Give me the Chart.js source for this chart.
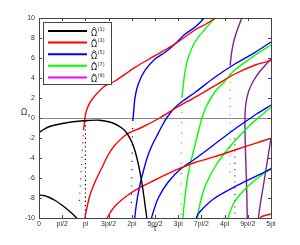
<!DOCTYPE html>
<html>
<head>
<meta charset="utf-8">
<script src="https://cdn.jsdelivr.net/npm/chart.js@4/dist/chart.umd.min.js"></script>
<style>
  html, body { margin: 0; padding: 0; background: #fff; }
  #wrap { width: 300px; height: 245px; }
</style>
</head>
<body>
<div id="wrap"><canvas id="omega" width="300" height="245"></canvas></div>
<script>
var tauLabels = ['0', 'pi/2', 'pi', '3pi/2', '2pi', '5pi/2', '3pi', '7pi/2', '4pi', '9pi/2', '5pi'];

var om1Upper = [[0,-1.45],[0.1,-1.15],[0.2,-0.9],[0.4,-0.65],[0.63,-0.45],[0.85,-0.32],[1.06,-0.25],[1.3,-0.22],[1.5,-0.38],[1.64,-0.6],[1.8,-1.05],[1.9,-1.55],[2.0,-2.4],[2.07,-3.3],[2.14,-4.6],[2.2,-6.0],[2.26,-7.8],[2.3,-9.2],[2.34,-10.5]];
var om1Lower = [[0,-7.7],[0.1,-7.75],[0.2,-7.9],[0.35,-8.25],[0.49,-8.7],[0.6,-9.1],[0.7,-9.5],[0.81,-10],[0.85,-10.3]];
var om1Dots = [[1.0,-0.3],[1.0,-10]];

var om3Dots = [[0.87,-8.3],[0.96,-1.2]];
var om3A = [[0.96,-1.2],[0.99,0],[1.02,0.7],[1.1,1.57],[1.24,2.4],[1.42,3.2],[1.64,3.7],[2.07,5.07],[2.5,6.23],[2.93,7.4],[3.36,8.8],[3.6,9.4],[3.81,10],[3.9,10.3]];
var om3B = [[0.99,-10.3],[1.0,-9.7],[1.1,-7.7],[1.21,-6.37],[1.35,-5.03],[1.49,-3.7],[1.64,-2.7],[1.9,-1.6],[2.21,-0.95],[2.6,0],[2.93,0.95],[3.36,2.07],[3.79,3.23],[4.22,4.4],[4.66,5.3],[5.0,5.75]];
var om3C = [[1.46,-10.3],[1.48,-9.9],[1.64,-8.8],[1.92,-7.7],[2.21,-6.87],[2.5,-6.2],[2.79,-5.53],[3.07,-4.97],[3.36,-4.45],[3.79,-3.87],[4.22,-3.2],[4.66,-2.53],[5.0,-2.03]];
var om3D = [[4.74,-10.1],[4.8,-9.85],[5.0,-9.6]];

var om5Dots = [[1.99,-8.5],[2.02,-0.3]];
var om5A = [[2.02,-0.3],[2.03,0.07],[2.07,2.07],[2.14,3.4],[2.28,4.73],[2.5,5.9],[2.72,6.57],[2.93,7.4],[3.15,8.4],[3.36,9.07],[3.54,9.9],[3.6,10.3]];
var om5B = [[2.06,-10.3],[2.08,-9.3],[2.12,-8.0],[2.18,-6.6],[2.25,-5.3],[2.33,-4.0],[2.42,-2.9],[2.55,-1.7],[2.65,-0.8],[2.75,0],[2.9,0.9],[3.07,1.6],[3.36,2.55],[3.79,4.07],[4.22,5.4],[4.66,6.57],[5.0,7.6]];
var om5C = [[2.42,-10.3],[2.43,-9.9],[2.57,-8.0],[2.79,-6.37],[3.07,-5.03],[3.36,-4.1],[3.79,-2.6],[4.22,-1.1],[4.5,-0.2],[4.69,0.4],[5.0,1.3]];
var om5D = [[3.39,-10.3],[3.4,-9.87],[3.5,-9.2],[3.79,-8.0],[4.22,-6.87],[4.66,-5.87],[5.0,-5.1]];

var om7Dots = [[3.06,-9.7],[3.08,2.0]];
var om7A = [[3.08,2.0],[3.1,2.9],[3.15,4.73],[3.22,6.07],[3.36,7.6],[3.58,8.9],[3.79,10],[3.85,10.3]];
var om7B = [[3.1,-10.3],[3.12,-9.0],[3.17,-7.0],[3.24,-5.0],[3.32,-3.5],[3.4,-2.0],[3.5,-0.2],[3.6,1.1],[3.79,2.6],[4.0,3.65],[4.22,4.8],[4.66,6.3],[5.0,7.3]];
var om7C = [[3.41,-10.3],[3.43,-9.5],[3.5,-8.0],[3.6,-6.6],[3.79,-4.9],[4.0,-3.5],[4.22,-2.3],[4.55,-0.7],[4.8,0.3],[5.0,1.1]];
var om7D = [[4.07,-10.3],[4.08,-9.9],[4.2,-8.5],[4.4,-7.3],[4.66,-6.2],[5.0,-5.0]];

var om9DotsUp = [[4.12,5.3],[4.12,-6]];
var om9DotsLow = [[4.22,-2],[4.22,-10]];
var om9A = [[4.12,5.3],[4.15,6.5],[4.2,7.7],[4.28,8.9],[4.37,10],[4.4,10.4]];
var om9B = [[4.49,-10.3],[4.475,-7],[4.455,-4],[4.44,-1.5],[4.44,0.3],[4.46,1.5],[4.52,2.7],[4.62,3.7],[4.75,4.6],[4.88,5.3],[5.0,5.9]];
var om9C = [[4.72,-10.3],[4.73,-9.9],[4.77,-8.6],[4.82,-7.2],[4.9,-4.9],[4.96,-3.2],[5.0,-2.0]];

var legendNames = ['(1)', '(3)', '(5)', '(7)', '(9)'];
var legendColors = ['#000000', '#ff0000', '#0000ff', '#00ff00', '#ff00ff'];

var solid = [
  [om1Upper, '#000000'], [om1Lower, '#000000'],
  [om3A, '#ff0000'], [om3B, '#ff0000'], [om3C, '#ff0000'], [om3D, '#ff0000'],
  [om5A, '#0000ff'], [om5B, '#0000ff'], [om5C, '#0000ff'], [om5D, '#0000ff'],
  [om7A, '#00ff00'], [om7B, '#00ff00'], [om7C, '#00ff00'], [om7D, '#00ff00'],
  [om9A, '#80208a'], [om9B, '#80208a'], [om9C, '#80208a']
];
// [points, colour, gap between dots]
var dotted = [
  [om1Dots, '#000000', 3], [om3Dots, '#ff0000', 6], [om5Dots, '#0000ff', 7],
  [om7Dots, '#00ff00', 9], [om9DotsUp, '#c070c0', 7], [om9DotsLow, '#80208a', 5]
];

function toXY(arr) { return arr.map(function (p) { return { x: p[0], y: p[1] }; }); }

var datasets = [];
solid.forEach(function (s) {
  datasets.push({ data: toXY(s[0]), borderColor: s[1], borderWidth: 1.4, showLine: true, pointRadius: 0, tension: 0.3 });
});
dotted.forEach(function (s) {
  datasets.push({ data: toXY(s[0]), borderColor: s[1], borderWidth: 1.2, borderDash: [1.2, s[2]], showLine: true, pointRadius: 0, tension: 0 });
});

// box with inward ticks on all four sides, like matlab
var boxPlugin = {
  id: 'box',
  afterDatasetsDraw: function (chart) {
    var c = chart.ctx, a = chart.chartArea, xs = chart.scales.x, ys = chart.scales.y;
    c.save();
    c.strokeStyle = '#444';
    c.lineWidth = 1;
    c.beginPath();
    xs.ticks.forEach(function (t) {
      var px = Math.round(xs.getPixelForValue(t.value)) + 0.5;
      c.moveTo(px, a.bottom); c.lineTo(px, a.bottom - 3);
      c.moveTo(px, a.top); c.lineTo(px, a.top + 3);
    });
    ys.ticks.forEach(function (t) {
      var py = Math.round(ys.getPixelForValue(t.value)) + 0.5;
      c.moveTo(a.left, py); c.lineTo(a.left + 3, py);
      c.moveTo(a.right, py); c.lineTo(a.right - 3, py);
    });
    c.stroke();
    c.strokeRect(Math.round(a.left) + 0.5, Math.round(a.top) + 0.5, Math.round(a.right - a.left), Math.round(a.bottom - a.top));
    c.restore();
  },
  afterDraw: function (chart) {
    var c = chart.ctx;
    c.save();
    // legend
    var lx = 43.5, ly = 22.5, lw = 68, lh = 62;
    c.fillStyle = '#fff';
    c.fillRect(lx, ly, lw, lh);
    c.strokeStyle = '#444';
    c.lineWidth = 1;
    c.strokeRect(lx, ly, lw, lh);
    legendNames.forEach(function (n, i) {
      var y = 31 + i * 11.6;
      c.strokeStyle = legendColors[i];
      c.lineWidth = 2;
      c.beginPath(); c.moveTo(48, y); c.lineTo(87, y); c.stroke();
      c.fillStyle = '#222';
      c.textBaseline = 'middle';
      c.textAlign = 'left';
      c.font = '8px "DejaVu Sans"';
      c.fillText('\u03A9', 91, y + 2.5);
      // hat over the omega
      c.strokeStyle = '#222';
      c.lineWidth = 0.8;
      c.beginPath();
      c.moveTo(92.3, y - 2); c.lineTo(94.3, y - 3.8); c.lineTo(96.3, y - 2);
      c.stroke();
      c.font = '5px "DejaVu Sans"';
      c.fillText(n, 97.5, y - 1.5);
    });
    // axis titles
    c.fillStyle = '#333';
    c.textAlign = 'center';
    c.font = '8px "DejaVu Sans"';
    c.fillText('\u03C4', 155, 229);
    c.fillText('\u03A9', 24, 113);
    c.font = '5px "DejaVu Sans"';
    c.fillText('s', 29, 116);
    c.restore();
  }
};

new Chart(document.getElementById('omega'), {
  type: 'scatter',
  data: { datasets: datasets },
  options: {
    responsive: false,
    animation: false,
    layout: { padding: { left: 0, right: 29, top: 18, bottom: 0 } },
    plugins: { legend: { display: false }, tooltip: { enabled: false } },
    scales: {
      x: {
        type: 'linear', min: 0, max: 5,
        afterFit: function (s) { s.height = 27; },
        grid: { display: false, drawTicks: false },
        border: { display: false },
        ticks: {
          stepSize: 0.5, padding: 2, color: '#333', maxRotation: 0, autoSkip: false,
          font: { family: 'Liberation Sans', size: 7 },
          callback: function (v) { return tauLabels[Math.round(v * 2)]; }
        }
      },
      y: {
        type: 'linear', min: -10, max: 10,
        afterFit: function (s) { s.width = 39; },
        grid: {
          drawTicks: false,
          color: function (ctx) { return ctx.tick && ctx.tick.value === 0 ? '#888' : 'rgba(0,0,0,0)'; }
        },
        border: { display: false },
        ticks: {
          stepSize: 2, padding: 4, color: '#333',
          font: { family: 'Liberation Sans', size: 7 }
        }
      }
    }
  },
  plugins: [boxPlugin]
});
</script>
</body>
</html>
